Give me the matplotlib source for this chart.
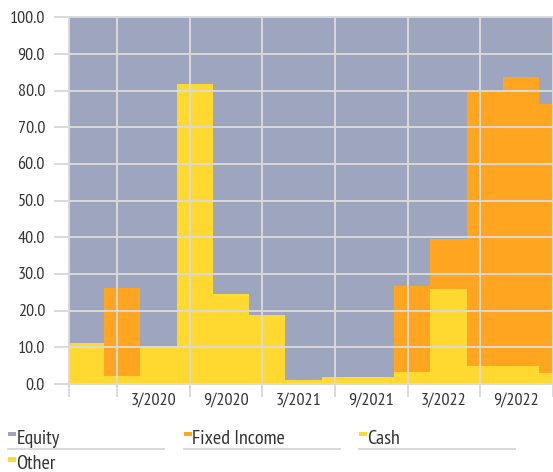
import numpy as np
import matplotlib
matplotlib.use("Agg")
import matplotlib.pyplot as plt
from matplotlib import font_manager as fm
from matplotlib.patches import Rectangle
from matplotlib.lines import Line2D

# ---------------- data ----------------
quarters = list(range(14))
cash = [11.1, 2.2, 10.0, 81.8, 24.5, 18.8, 1.1, 1.8, 1.9, 3.4, 25.9, 4.9, 4.8, 2.9]
fixed_income = [0.0, 23.9, 0.0, 0.0, 0.0, 0.0, 0.0, 0.0, 0.0, 23.4, 13.6, 74.9, 79.0, 73.5]
other = [0.0] * 14
equity = [100 - c - f - o for c, f, o in zip(cash, fixed_income, other)]
x_labels = ["3/2020", "9/2020", "3/2021", "9/2021", "3/2022", "9/2022"]
y_ticks = [0, 10, 20, 30, 40, 50, 60, 70, 80, 90, 100]
legend_labels = ["Equity", "Fixed Income", "Cash", "Other"]

C_EQ = "#9ea5bf"
C_FI = "#ffa520"
C_CASH = "#ffd930"
C_OTHER = "#ffd930"
GRID = "#d9d9d9"
TXT = "#333333"

# ---------------- font ----------------
names = {f.name for f in fm.fontManager.ttflist}
family = "DejaVu Sans"
for cand in ["PT Sans Narrow", "Roboto Condensed", "Archivo Narrow"]:
    if cand in names:
        family = cand
        break
plt.rcParams["font.family"] = [family, "DejaVu Sans"]

W, H = 553, 472
fig = plt.figure(figsize=(W / 100, H / 100), dpi=100)

# axes geometry (pixels)
px0, px1, py_top, py_bot = 69.0, 552.7, 17.3, 384.0
ax = fig.add_axes([px0 / W, 1 - py_bot / H, (px1 - px0) / W, (py_bot - py_top) / H])
xmin, xmax = 0.036, 13.37
ax.set_xlim(xmin, xmax)
ax.set_ylim(0, 100)
for s in ax.spines.values():
    s.set_visible(False)
ax.set_xticks([])
ax.set_yticks([])

xc = np.array(quarters) + 0.5
ax.bar(xc, cash, width=1.0, color=C_CASH, linewidth=0, zorder=1)
ax.bar(xc, other, width=1.0, bottom=cash, color=C_OTHER, linewidth=0, zorder=1)
bot2 = [c + o for c, o in zip(cash, other)]
ax.bar(xc, fixed_income, width=1.0, bottom=bot2, color=C_FI, linewidth=0, zorder=1)
bot3 = [b + f for b, f in zip(bot2, fixed_income)]
ax.bar(xc, equity, width=1.0, bottom=bot3, color=C_EQ, linewidth=0, zorder=1)

# pixel <-> data helpers
ux = (px1 - px0) / (xmax - xmin)
uy = (py_bot - py_top) / 100.0

# gridlines (on top of bars) with outer extensions
gx = [xmin] + [1.37 + 2 * k for k in range(7)]
x_ext = xmin - 15 / ux
for v in y_ticks:
    ax.plot([x_ext, xmax], [v, v], color=GRID, lw=1.4, zorder=3, clip_on=False,
            solid_capstyle="butt")
    ax.text(xmin - 24 / ux, v - 1.5 / uy, f"{v:.1f}", ha="right", va="center",
            fontsize=13, color=TXT)
y_ext = -13 / uy
for g in gx:
    ax.plot([g, g], [y_ext, 100], color=GRID, lw=1.4, zorder=3, clip_on=False,
            solid_capstyle="butt")
for k, lab in enumerate(x_labels):
    mid = (gx[k + 1] + gx[k + 2]) / 2
    ax.text(mid, -9 / uy, lab, ha="center", va="top", fontsize=13, color=TXT)

# ---------------- legend ----------------
leg_cols = [8.3, 184.0, 359.3]
leg_items = [(legend_labels[0], C_EQ, 0, 0), (legend_labels[1], C_FI, 1, 0),
             (legend_labels[2], C_CASH, 2, 0), (legend_labels[3], C_OTHER, 0, 1)]
row_base = [444.3, 469.0]
row_mark = [431.7, 457.0]
for lab, col, ci, ri in leg_items:
    x0 = leg_cols[ci]
    ytop = row_mark[ri]
    fig.patches.append(Rectangle((x0 / W, 1 - (ytop + 4.5) / H), 8 / W, 4.5 / H,
                                 transform=fig.transFigure, color=col, lw=0))
    fig.text((x0 + 8.2) / W, 1 - row_base[ri] / H, lab, ha="left", va="baseline",
             fontsize=14.5, color=TXT)
    if ri == 0:
        fig.lines.append(Line2D([x0 / W, (x0 + 156) / W], [1 - 449.3 / H, 1 - 449.3 / H],
                                transform=fig.transFigure, color=GRID, lw=1.4))

fig.savefig("out.png", dpi=100)
